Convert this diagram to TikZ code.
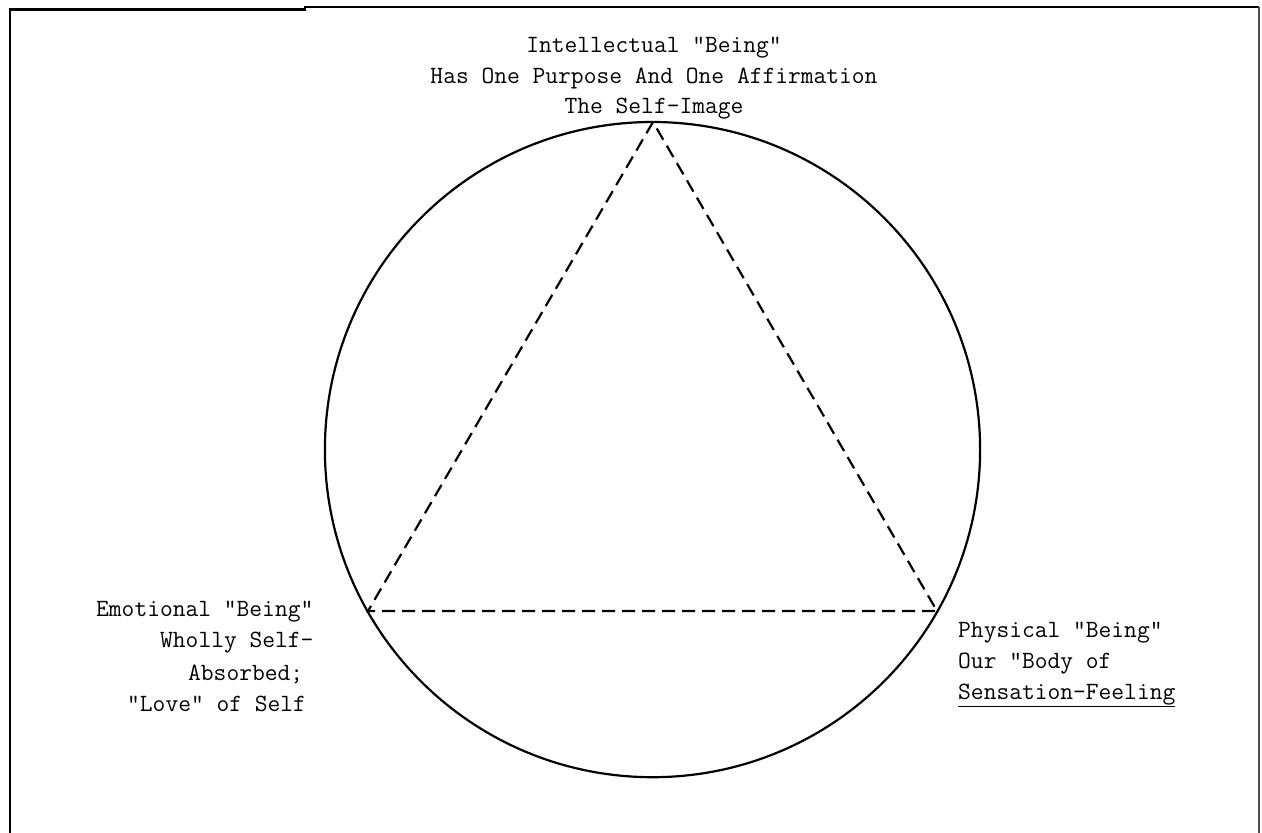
\documentclass[tikz,border=0pt]{standalone}
\usepackage{fontspec}
\begin{document}
\begin{tikzpicture}[x=1pt,y=-1pt,
  lbl/.style={font=\ttfamily\fontsize{24.8}{30}\selectfont, inner sep=0pt, text=black},
  frameline/.style={line width=2.6pt, black},
  ring/.style={line width=2.2pt, black},
  tri/.style={line width=2.2pt, black, dash pattern=on 13pt off 7pt}]
\useasboundingbox (0,0) rectangle (1262,833);
% frame
\draw[frameline] (10,833) -- (10,9.5) -- (305,9.5) -- (305,7) -- (1259,7);
\draw[line width=1.2pt, black!70] (1259,7) -- (1259,833);
% circle and triangle
\coordinate (c) at (652.5,449.6);
\coordinate (apex) at (653,122);
\coordinate (lv) at (368,611);
\coordinate (rv) at (937,611);
\draw[ring] (c) circle (327.6pt);
\draw[tri] (apex) -- (lv) -- (rv) -- cycle;
% top labels
\node[lbl, anchor=base] (t1) at (654,52) {Intellectual "Being"};
\node[lbl, anchor=base] (t2) at (654,83) {Has One Purpose And One Affirmation};
\node[lbl, anchor=base] (t3) at (654,113) {The Self-Image};
% left labels
\node[lbl, anchor=base west] (l1) at (96,616) {Emotional "Being"};
\node[lbl, anchor=base west] (l2) at (160,647) {Wholly Self-};
\node[lbl, anchor=base west] (l3) at (188,680) {Absorbed;};
\node[lbl, anchor=base west] (l4) at (127,711) {"Love" of Self};
% right labels
\node[lbl, anchor=base west] (r1) at (958,637) {Physical "Being"};
\node[lbl, anchor=base west] (r2) at (958,668) {Our "Body of};
\node[lbl, anchor=base west] (r3) at (958,699) {\underline{Sensation-Feeling}};
\end{tikzpicture}
\end{document}
